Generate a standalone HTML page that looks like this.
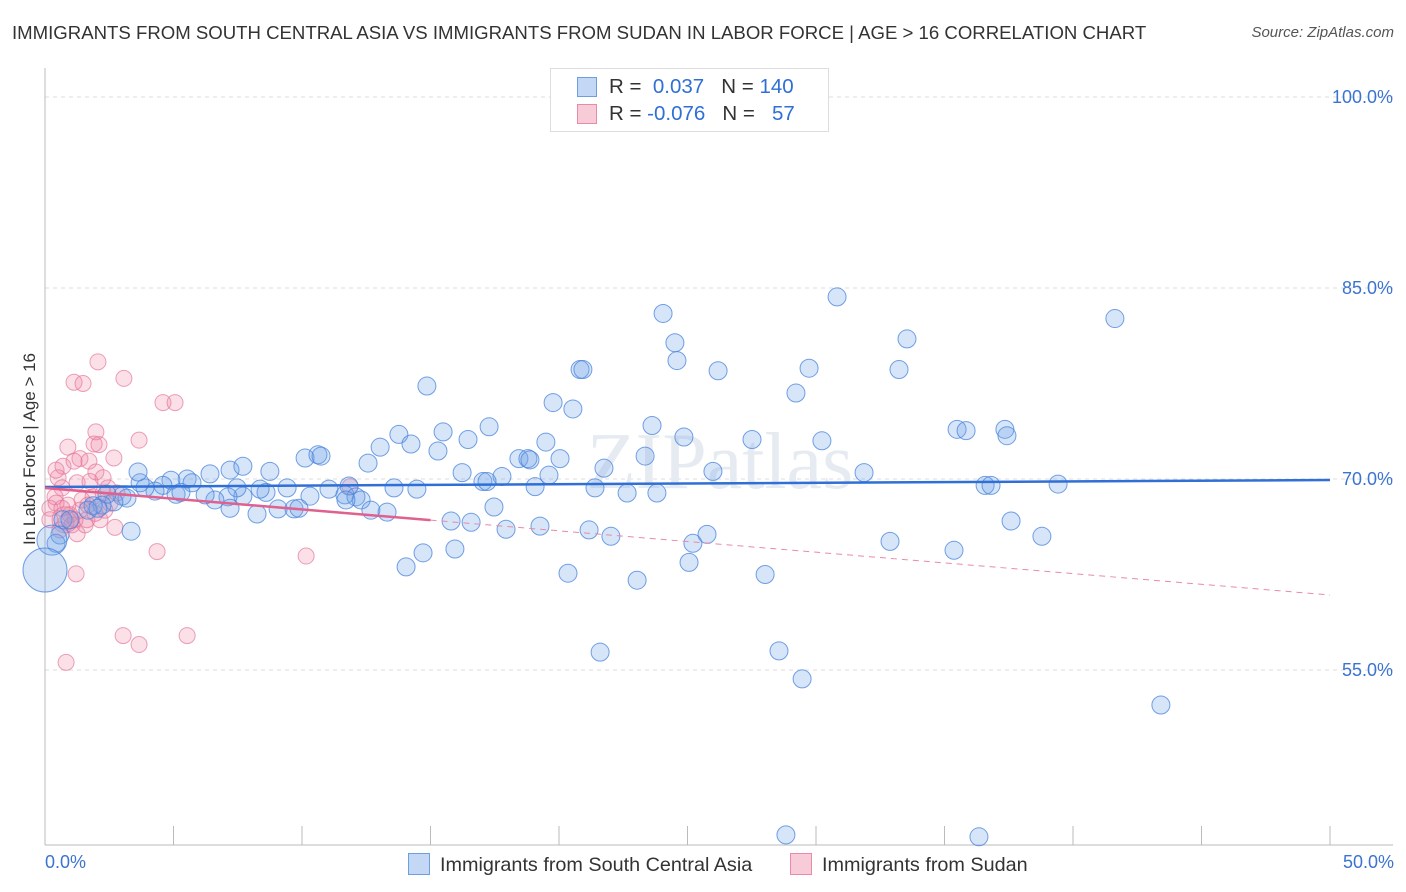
<!DOCTYPE html>
<html><head><meta charset="utf-8">
<style>
body{margin:0;background:#fff;font-family:"Liberation Sans",sans-serif;}
#wrap{position:relative;width:1406px;height:892px;overflow:hidden;}
.t{position:absolute;white-space:nowrap;}
</style></head>
<body>
<div id="wrap">
<div class="t" style="left:12px;top:22px;font-size:18.6px;color:#333;">IMMIGRANTS FROM SOUTH CENTRAL ASIA VS IMMIGRANTS FROM SUDAN IN LABOR FORCE | AGE &gt; 16 CORRELATION CHART</div>
<div class="t" style="right:12px;top:24px;font-size:15px;color:#555;font-style:italic;">Source: ZipAtlas.com</div>
<svg id="svg" width="1406" height="892" style="position:absolute;left:0;top:0"></svg>
</div>
<script>
const blueX=[24.05,30.82,41.63,33.54,24.51,24.59,20.82,20.93,26.19,29.73,33.23,14.86,19.77,20.54,29.22,13.77,15.49,14.24,16.46,17.28,19.49,23.62,24.86,27.51,30.23,35.49,35.84,37.35,37.43,15.29,13.04,10.12,10.62,10.74,12.57,16.23,18.44,18.79,20.04,18.87,23.35,21.75,25.99,31.87,19.61,17.78,17.04,17.2,19.07,21.4,22.65,23.81,13.58,14.47,11.83,11.05,11.67,12.1,12.3,12.68,13.31,10.31,9.42,8.6,8.37,7.7,7.47,7.12,6.61,6.23,6.42,7.2,7.7,8.75,5.53,5.72,4.9,4.59,4.28,3.89,3.7,3.62,5.1,5.29,3.0,3.19,2.68,2.41,2.22,1.87,1.67,2.06,7.2,8.25,9.07,9.69,9.88,11.71,15.8,16.58,17.47,17.94,19.26,21.17,22.02,25.21,25.76,15.95,14.71,14.05,20.35,23.04,25.06,28.02,32.88,35.37,38.79,37.59,36.58,36.81,39.42,21.6,28.56,29.46,43.42,28.83,36.34,3.35,0.7,0.97,0.58,0.43,0.27,0];
const blueY=[83.0,84.3,82.6,81.0,80.7,79.3,78.6,78.6,78.5,78.7,78.6,77.3,76.0,75.5,76.75,73.5,73.7,72.75,73.1,74.1,72.9,74.2,73.3,73.1,73.0,73.9,73.8,73.9,73.4,72.2,72.5,71.65,71.9,71.8,71.25,70.5,71.6,71.6,71.6,71.5,71.8,70.85,70.6,70.5,70.3,70.2,69.8,69.8,69.4,69.3,68.9,68.9,69.3,69.2,69.45,69.2,68.75,68.6,68.35,67.55,67.4,68.65,69.3,68.95,69.2,68.65,69.3,68.6,68.35,68.75,70.4,70.7,71.0,70.6,70.0,69.7,69.9,69.5,69.05,69.3,69.7,70.55,68.8,68.95,68.65,68.5,68.2,68.8,67.95,67.9,67.55,67.7,67.7,67.25,67.65,67.65,67.7,68.35,66.7,66.6,67.8,66.05,66.3,66.0,65.5,64.95,65.65,64.5,64.2,63.1,62.6,62.05,63.45,62.5,65.1,64.4,65.5,66.7,69.5,69.5,69.6,56.4,56.5,54.3,52.25,42.05,41.9,65.9,66.8,66.8,65.6,64.95,65.2,62.85];
const blueSize=blueX.map((v,i)=>i==blueX.length-1?22:(i==blueX.length-2?15:9));
const pinkX=[2.06,1.13,1.48,3.07,4.59,5.06,3.66,1.98,1.91,0.89,2.1,1.36,0.7,1.13,1.71,2.68,0.51,0.43,0.66,0.39,1.25,1.98,2.26,1.44,1.87,2.45,2.53,1.36,1.05,1.25,2.14,1.95,1.67,2.33,0.97,0.82,2.72,4.36,1.21,10.16,3.04,3.66,5.53,0.82,11.87,2.26,0.19,0.19,0.43,0.89,1.56,0.58,1.63,1.17,1.75,2.8,0.66,0.78];
const pinkY=[79.2,77.6,77.5,77.9,76.0,76.0,73.05,73.7,72.75,72.5,72.7,71.6,71.0,71.4,71.4,71.65,70.1,70.7,69.3,68.6,69.7,70.55,70.1,68.35,68.6,69.3,68.1,67.55,66.4,65.7,66.8,67.3,67.95,67.55,67.2,66.6,66.2,64.3,62.55,63.95,57.7,57.0,57.7,55.6,69.4,68.9,67.7,66.8,68.1,67.95,66.4,66.0,66.8,66.8,69.8,68.9,67.7,66.8];
const pinkSize=pinkX.map((v,i)=>i==pinkX.length-1?13:8);
const blueTrend=[69.37,69.92];
const pinkTrend=[69.29,60.89];
const yTicks=[100,85,70,55];
const xTickCount=11;

const X=v=>45+v*25.7;
const Y=v=>97+(100-v)*12.733;
const svg=document.getElementById('svg');
const NS='http://www.w3.org/2000/svg';
function mk(tag,attrs){const e=document.createElementNS(NS,tag);for(const k in attrs)e.setAttribute(k,attrs[k]);svg.appendChild(e);return e;}
yTicks.forEach(t=>{
 const l=mk('line',{x1:45,x2:1393,y1:Y(t),y2:Y(t),stroke:'#ddd','stroke-dasharray':'4,4'});
 
 
 const tx=mk('text',{x:1393,y:Y(t)+6,'text-anchor':'end','font-size':18,fill:'#3a74d0','font-family':'Liberation Sans'});
 tx.textContent=t.toFixed(1)+'%';
 
 
});
const ax=mk('line',{x1:45,x2:1393,y1:845,y2:845,stroke:'#bbb'});


const ay=mk('line',{x1:45,x2:45,y1:68,y2:845,stroke:'#bbb'});


for(let i=0;i<xTickCount;i++){
 const xv=i*5;
 const tk=mk('line',{x1:X(xv),x2:X(xv),y1:826,y2:845,stroke:'#bbb'});
 
 
}
const wm=mk('text',{x:720,y:488,'text-anchor':'middle','font-size':80,fill:'#e6ebf2','font-family':'Liberation Serif'});
wm.textContent='ZIPatlas';


pinkX.forEach((x,i)=>{
 const c=mk('circle',{cx:X(x),cy:Y(pinkY[i]),r:pinkSize[i],fill:'rgba(240,130,165,0.25)',stroke:'rgba(230,120,155,0.7)','stroke-width':1});
 
 
});
blueX.forEach((x,i)=>{
 const c=mk('circle',{cx:X(x),cy:Y(blueY[i]),r:blueSize[i],fill:'rgba(110,160,230,0.28)',stroke:'rgba(70,130,220,0.75)','stroke-width':1});
 
 
});
const bl=mk('line',{x1:X(0),x2:X(50),y1:Y(blueTrend[0]),y2:Y(blueTrend[1]),stroke:'#2f6fd6','stroke-width':2.5});


const pm=pinkTrend[0]+(pinkTrend[1]-pinkTrend[0])*15/50;
const pl=mk('line',{x1:X(0),x2:X(15),y1:Y(pinkTrend[0]),y2:Y(pm),stroke:'#e0608e','stroke-width':2.5});


const pd=mk('line',{x1:X(15),x2:X(50),y1:Y(pm),y2:Y(pinkTrend[1]),stroke:'#e88aa8','stroke-width':1,'stroke-dasharray':'6,5'});


</script>
<div class="t" style="left:45px;top:852px;font-size:18px;color:#3a74d0;">0.0%</div>
<div class="t" style="right:12px;top:852px;font-size:18px;color:#3a74d0;">50.0%</div>
<div class="t" style="left:-60px;top:445px;font-size:17px;color:#333;transform:rotate(-90deg);width:180px;text-align:center;">In Labor Force | Age &gt; 16</div>
<div style="position:absolute;left:550px;top:68px;width:277px;height:62px;border:1px solid #ddd;background:#fff;font-size:20.5px;">
 <div style="position:absolute;left:26px;top:8px;width:18px;height:18px;background:#c4d8f5;border:1px solid #6f9ee0;"></div>
 <div class="t" style="left:58px;top:6px;color:#333">R = <span style="color:#2f6fd6">&nbsp;0.037</span>&nbsp;&nbsp;&nbsp;N = <span style="color:#2f6fd6">140</span></div>
 <div style="position:absolute;left:26px;top:35px;width:18px;height:18px;background:#f8cbd8;border:1px solid #e88aa8;"></div>
 <div class="t" style="left:58px;top:33px;color:#333">R = <span style="color:#2f6fd6">-0.076</span>&nbsp;&nbsp;&nbsp;N = <span style="color:#2f6fd6">&nbsp;&nbsp;57</span></div>
</div>
<div style="position:absolute;left:408px;top:853px;font-size:19.8px;color:#333;">
 <span style="display:inline-block;width:20px;height:20px;background:#c4d8f5;border:1px solid #6f9ee0;vertical-align:-4px;margin-right:10px;"></span>Immigrants from South Central Asia</div>
<div style="position:absolute;left:790px;top:853px;font-size:19.8px;color:#333;">
 <span style="display:inline-block;width:20px;height:20px;background:#f8cbd8;border:1px solid #e88aa8;vertical-align:-4px;margin-right:10px;"></span>Immigrants from Sudan</div>
</body></html>
